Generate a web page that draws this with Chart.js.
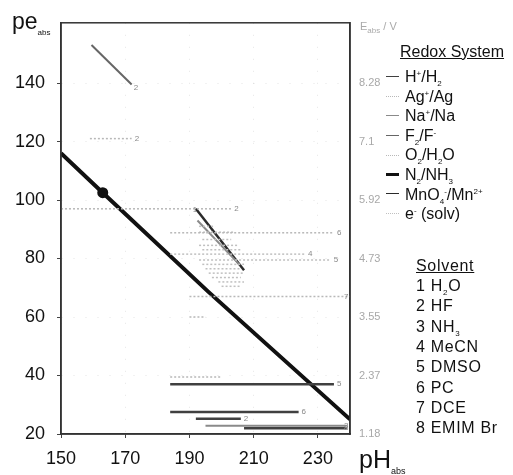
<!DOCTYPE html>
<html>
<head>
<meta charset="utf-8">
<script src="https://cdn.jsdelivr.net/npm/chart.js@4.4.1/dist/chart.umd.min.js"></script>
<style>
  body { margin: 0; background: #fff; font-family: "Liberation Sans", Arial, sans-serif; }
  #wrap { position: relative; width: 513px; height: 475px; overflow: hidden; }
  #myChart { position: absolute; left: 0; top: 0; }
  .lbl { position: absolute; white-space: nowrap; color: #111; line-height: 1; }
  .lbl sub, .lbl sup { font-size: 8px; line-height: 0; }
  .row { position: absolute; white-space: nowrap; font-size: 16px; line-height: 1; color: #111; }
  .row sub, .row sup { font-size: 8px; line-height: 0; }
  .wide { letter-spacing: 0.7px; }
  .swatch { position: absolute; width: 13px; height: 0; }
</style>
</head>
<body>
<div id="wrap">
  <canvas id="myChart" width="513" height="475"></canvas>
  <div class="lbl" style="left:12px; top:10px; font-size:23px;">pe<sub style="font-size:8px;">abs</sub></div>
  <div class="lbl" style="left:359px; top:447px; font-size:25px;">pH<sub style="font-size:9px;">abs</sub></div>
  <div class="lbl" style="left:360px; top:21px; font-size:11px; color:#aaa;">E<sub>abs</sub> / V</div>
  <div id="legend"></div>
</div>
<script>
// categories
const systems = ['H<sup>+</sup>/H<sub>2</sub>', 'Ag<sup>+</sup>/Ag', 'Na<sup>+</sup>/Na', 'F<sub>2</sub>/F<sup>-</sup>',
                 'O<sub>2</sub>/H<sub>2</sub>O', 'N<sub>2</sub>/NH<sub>3</sub>', 'MnO<sub>4</sub><sup>-</sup>/Mn<sup>2+</sup>', 'e<sup>-</sup> (solv)'];
const solvents = ['H<sub>2</sub>O', 'HF', 'NH<sub>3</sub>', 'MeCN', 'DMSO', 'PC', 'DCE', 'EMIM Br'];

// tick labels
const xTicks = [150, 170, 190, 210, 230];
const yTicks = [20, 40, 60, 80, 100, 120, 140];
const eTicks = ['1.18', '2.37', '3.55', '4.73', '5.92', '7.1', '8.28'];

// horizontal couples: pe level, pH range, redox system index, solvent number
const hPe   = [121, 97, 88.8, 81.5, 79.5, 67, 60, 39.5, 37, 27.5, 25.2, 22.8, 22];
const hFrom = [159, 150, 184, 184, 193, 190, 190, 184, 184, 184, 192, 195, 207];
const hTo   = [172, 203, 235, 226, 234, 240, 195, 200, 235, 224, 206, 239, 239];
const hSys  = [1, 1, 4, 7, 7, 4, 1, 1, 0, 0, 0, 2, 0];
const hSolv = [2, 2, 6, 4, 5, 7, 0, 0, 5, 6, 2, 3, 8];

// sloped couples
const n2Ph = [150, 163, 196, 240];
const n2Pe = [116, 102.5, 68.5, 25];
const f2Ph = [159.5, 172];
const f2Pe = [153, 139.5];
const mnPh = [192, 207];
const mnPe = [97, 76];
const h2Ph = [192.5, 205.5];
const h2Pe = [93, 78];

// solvated-electron cloud (short dotted pieces)
const cloudPe   = [91, 89, 86.5, 84.5, 83, 78, 76.5, 75, 73.5, 72, 70.5];
const cloudFrom = [193, 193, 194, 193, 194, 194, 195, 196, 197, 199, 200];
const cloudTo   = [198, 204, 203, 205, 206, 207, 206, 207, 206, 207, 206];

// styles per redox system
const sysColor = ['#404040', '#b8b8b8', '#8a8a8a', '#666', '#b8b8b8', '#111', '#2a2a2a', '#c0c0c0'];
const sysWidth = [2.5, 1.5, 2, 2, 1.5, 4, 2.5, 1.5];
const sysDash  = [[], [2, 2], [], [], [2, 2], [], [], [2, 2]];

function pts(xs, ys) { return xs.map((x, i) => ({ x: x, y: ys[i] })); }
function ds(data, s, extra) {
  return Object.assign({
    data: data, showLine: true, pointRadius: 0, borderColor: sysColor[s],
    borderWidth: sysWidth[s], borderDash: sysDash[s], backgroundColor: sysColor[s], tension: 0
  }, extra || {});
}

const datasets = [];
hPe.forEach((pe, i) => {
  datasets.push(ds([{ x: hFrom[i], y: pe }, { x: hTo[i], y: pe }], hSys[i]));
});
cloudPe.forEach((pe, i) => {
  datasets.push(ds([{ x: cloudFrom[i], y: pe }, { x: cloudTo[i], y: pe }], 7));
});
datasets.push(ds(pts(h2Ph, h2Pe), 2));
datasets.push(ds(pts(f2Ph, f2Pe), 3));
datasets.push(ds(pts(mnPh, mnPe), 6));
datasets.push(ds(pts(n2Ph, n2Pe), 5, {
  pointRadius: ctx => ctx.dataIndex === 1 ? 3.5 : 0, pointStyle: 'circle'
}));

// small solvent numbers at line ends + frame
const extras = {
  id: 'extras',
  afterDatasetsDraw(chart) {
    const { ctx, chartArea: a, scales: { x, y } } = chart;
    ctx.save();
    ctx.font = '8px "Liberation Sans", Arial';
    ctx.fillStyle = '#888';
    ctx.textBaseline = 'middle';
    hPe.forEach((pe, i) => {
      if (!hSolv[i]) return;
      const px = Math.min(x.getPixelForValue(hTo[i]) + 3, a.right - 6);
      ctx.fillText(String(hSolv[i]), px, y.getPixelForValue(pe));
    });
    ctx.fillText('2', x.getPixelForValue(f2Ph[1]) + 2, y.getPixelForValue(f2Pe[1]) + 3);
    ctx.fillText('1', x.getPixelForValue(mnPh[0]) - 3, y.getPixelForValue(mnPe[0]) + 1);
    ctx.strokeStyle = '#333';
    ctx.lineWidth = 1.5;
    ctx.strokeRect(a.left, a.top, a.right - a.left, a.bottom - a.top);
    ctx.restore();
  }
};

const font = { family: '"Liberation Sans", Arial, sans-serif', size: 18 };

const config = {
  type: 'scatter',
  data: { datasets },
  options: {
    responsive: false,
    animation: false,
    layout: { padding: { top: 16, left: 0, right: 0, bottom: 0 } },
    plugins: { legend: { display: false }, tooltip: { enabled: false } },
    scales: {
      x: {
        type: 'linear', min: 150, max: 240, position: 'bottom',
        afterBuildTicks: s => { s.ticks = xTicks.map(v => ({ value: v })); },
        afterFit: s => { s.height = 41; },
        ticks: { font, color: '#111', padding: 10 },
        grid: { drawOnChartArea: true, color: 'rgba(0,0,0,0.1)', tickColor: '#444', tickLength: 4, tickBorderDash: [] },
        border: { color: '#333', width: 1.5, dash: [1, 11] }
      },
      y: {
        type: 'linear', min: 20, max: 160.6, position: 'left',
        afterBuildTicks: s => { s.ticks = yTicks.map(v => ({ value: v })); },
        afterFit: s => { s.width = 61; },
        ticks: { font, color: '#111', padding: 12 },
        grid: { drawOnChartArea: true, color: 'rgba(0,0,0,0.1)', tickColor: '#444', tickLength: 4, tickBorderDash: [] },
        border: { color: '#333', width: 1.5, dash: [1, 11] }
      },
      y2: {
        type: 'linear', min: 20, max: 160.6, position: 'right',
        afterBuildTicks: s => { s.ticks = yTicks.map(v => ({ value: v })); },
        afterFit: s => { s.width = 163; },
        ticks: {
          font: { family: font.family, size: 11 }, color: '#a8a8a8', padding: 9,
          callback: (v) => eTicks[yTicks.indexOf(v)]
        },
        grid: { drawOnChartArea: false, drawTicks: false },
        border: { color: '#333', width: 1.5 }
      }
    }
  },
  plugins: [extras]
};

const myChart = new Chart(document.getElementById('myChart'), config);

// legend (HTML text)
const leg = document.getElementById('legend');
let html = '<div class="row" style="left:400px; top:44px; text-decoration:underline;">Redox System</div>';
systems.forEach((s, i) => {
  const top = 77 + i * 19.6;
  const dash = sysDash[i].length ? 'dotted' : 'solid';
  html += '<div class="swatch" style="left:386px; top:' + (top - sysWidth[i] / 2) + 'px; border-top:' +
    Math.max(1.5, sysWidth[i] - 1) + 'px ' + dash + ' ' + sysColor[i] + ';"></div>';
  html += '<div class="row" style="left:405px; top:' + (top - 8) + 'px;">' + s + '</div>';
});
html += '<div class="row wide" style="left:416px; top:258px; text-decoration:underline;">Solvent</div>';
solvents.forEach((s, i) => {
  html += '<div class="row wide" style="left:416px; top:' + (278 + i * 20.3) + 'px;">' + (i + 1) + ' ' + s + '</div>';
});
leg.innerHTML = html;
</script>
</body>
</html>
